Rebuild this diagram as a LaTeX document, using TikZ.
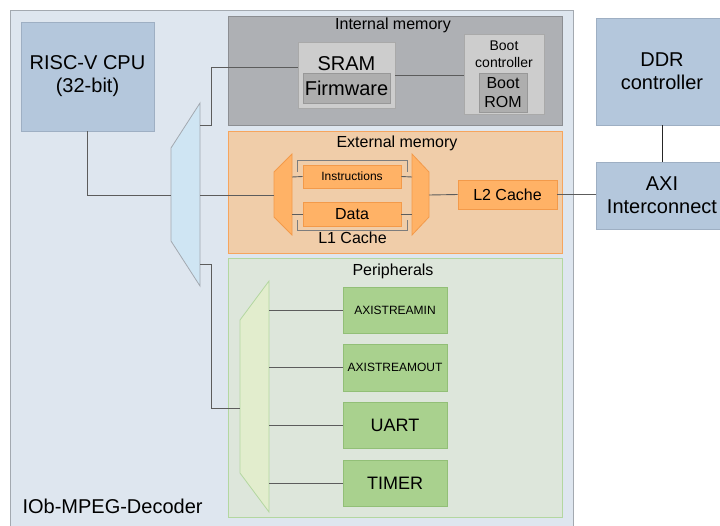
\documentclass[tikz,border=0pt]{standalone}
\usepackage{fontspec}
\setmainfont{Liberation Sans}
\definecolor{socfill}{HTML}{DEE6EF}
\definecolor{socedge}{HTML}{A3A9B0}
\definecolor{bluefill}{HTML}{B4C7DC}
\definecolor{blueedge}{HTML}{9EAFC3}
\definecolor{muxblue}{HTML}{CFE5F3}
\definecolor{intfill}{HTML}{AEB0B4}
\definecolor{intedge}{HTML}{8C8E92}
\definecolor{sramfill}{HTML}{CDCDCD}
\definecolor{sramedge}{HTML}{A9A9A9}
\definecolor{fwfill}{HTML}{AEAEAE}
\definecolor{fwedge}{HTML}{989898}
\definecolor{extfill}{HTML}{F0CDA9}
\definecolor{extedge}{HTML}{F6A55E}
\definecolor{cachefill}{HTML}{FFB266}
\definecolor{cacheedge}{HTML}{F39A4A}
\definecolor{perfill}{HTML}{DDE6DB}
\definecolor{peredge}{HTML}{B3D7A0}
\definecolor{periphfill}{HTML}{A9D18E}
\definecolor{periphedge}{HTML}{92BF77}
\definecolor{muxgreen}{HTML}{E2EDCD}
\definecolor{wire}{HTML}{5C5C5C}
\tikzset{
  box/.style={draw, rectangle, inner sep=0pt, align=center, line width=0.8pt},
  region/.style={draw, line width=0.8pt},
  wirestyle/.style={draw=wire, line width=0.9pt},
  big/.style={font=\fontsize{20}{23}\selectfont},
  mid/.style={font=\fontsize{18}{21}\selectfont},
  norm/.style={font=\fontsize{16}{18.5}\selectfont},
  small/.style={font=\fontsize{14}{17}\selectfont},
  tiny/.style={font=\fontsize{12}{14}\selectfont},
}
\begin{document}
\begin{tikzpicture}[x=1pt, y=-1pt]
\useasboundingbox (0,0) rectangle (720,525);

% SoC enclosure
\path[region, draw=socedge, fill=socfill] (10,10) rectangle (573,540);
\node[big, anchor=base west] (soclabel) at (19,513) {IOb-MPEG-Decoder};

% CPU and off-chip blocks
\node[box, big, draw=blueedge, fill=bluefill, minimum width=133pt, minimum height=109pt] (cpu) at (87.5,76.5) {RISC-V CPU\\(32-bit)};
\node[box, big, draw=blueedge, fill=bluefill, minimum width=132pt, minimum height=107pt] (ddr) at (662,71.5) {DDR\\controller};
\node[box, big, draw=blueedge, fill=bluefill, minimum width=132pt, minimum height=67pt] (axi) at (662,195.5) {AXI\\Interconnect};

% Internal memory
\path[region, draw=intedge, fill=intfill] (228,16) rectangle (562,125);
\node[norm, anchor=base] (inttitle) at (393,29) {Internal memory};
\node[box, draw=sramedge, fill=sramfill, minimum width=97pt, minimum height=66pt] (sram) at (346.5,75) {};
\node[big, anchor=base] (sramlabel) at (346.5,70) {SRAM};
\node[box, big, draw=fwedge, fill=fwfill, minimum width=87pt, minimum height=30pt] (fw) at (346.5,88) {Firmware};
\node[box, draw=sramedge, fill=sramfill, minimum width=80pt, minimum height=80pt] (bootctr) at (504,74) {};
\node[small, anchor=base] (bootlabel) at (504,50) {Boot};
\node[small, anchor=base] (ctrlabel) at (504,67) {controller};
\node[box, norm, draw=fwedge, fill=fwfill, minimum width=48pt, minimum height=39pt] (bootrom) at (503,92.5) {Boot\\ROM};

% External memory
\path[region, draw=extedge, fill=extfill] (228,131) rectangle (562,253);
\node[norm, anchor=base] (exttitle) at (397,147) {External memory};
\draw[region, draw=cacheedge, fill=cachefill] (274,172) -- (292,154) -- (292,235) -- (274,217) -- cycle;
\draw[region, draw=cacheedge, fill=cachefill] (412,154) -- (429,172) -- (429,217) -- (412,235) -- cycle;
\coordinate (l1in) at (274,195);
\coordinate (l1li) at (292,177);
\coordinate (l1ld) at (292,214);
\coordinate (l1ri) at (412,177);
\coordinate (l1rd) at (412,214);
\coordinate (l1out) at (429,195);
\node[box, tiny, draw=cacheedge, fill=cachefill, minimum width=98pt, minimum height=23pt] (instr) at (352,176.5) {Instructions};
\node[box, norm, draw=cacheedge, fill=cachefill, minimum width=98pt, minimum height=24pt] (data) at (352,214) {Data};
\draw[wirestyle, draw=wire!80] (297,172) -- (297,160) -- (407,160) -- (407,172);
\draw[wirestyle, draw=wire!80] (297,220) -- (297,230) -- (407,230) -- (407,220);
\node[norm, anchor=base] (l1label) at (352.5,243) {L1 Cache};
\node[box, norm, draw=cacheedge, fill=cachefill, minimum width=99pt, minimum height=29pt] (l2) at (507.5,194.5) {L2 Cache};

% Peripherals
\path[region, draw=peredge, fill=perfill] (228,258) rectangle (562,517);
\node[norm, anchor=base] (pertitle) at (393,275) {Peripherals};
\draw[region, draw=peredge, fill=muxgreen] (240,320) -- (269,281) -- (269,512) -- (240,473) -- cycle;
\coordinate (pmin) at (240,408);
\foreach \n/\y in {p1/310, p2/367.5, p3/425, p4/483} {
  \coordinate (\n) at (269,\y);
}
\node[box, tiny, draw=periphedge, fill=periphfill, minimum width=104pt, minimum height=46pt] (axin) at (395,310) {AXISTREAMIN};
\node[box, tiny, draw=periphedge, fill=periphfill, minimum width=104pt, minimum height=47pt] (axout) at (395,367.5) {AXISTREAMOUT};
\node[box, mid, draw=periphedge, fill=periphfill, minimum width=104pt, minimum height=46pt] (uart) at (395,425) {UART};
\node[box, mid, draw=periphedge, fill=periphfill, minimum width=104pt, minimum height=46pt] (timer) at (395,483) {TIMER};

% CPU bus splitter
\draw[region, draw=socedge, fill=muxblue] (171,148) -- (200,103) -- (200,286) -- (171,241) -- cycle;
\coordinate (bmin) at (171,195);
\coordinate (bmtop) at (200,125);
\coordinate (bmmid) at (200,195);
\coordinate (bmbot) at (200,264);

% Wires
\draw[wirestyle] (cpu.south) |- (bmin);
\draw[wirestyle] (bmtop) -- (211,125) |- (sram.west |- 0,67);
\draw[wirestyle] (bmmid) -- (l1in);
\draw[wirestyle] (bmbot) -- (211,264) |- (pmin);
\draw[wirestyle] (sram.east) -- (bootctr.west |- sram.east);
\draw[wirestyle] (l1li) -- (instr.west);
\draw[wirestyle] (l1ld) -- (data.west);
\draw[wirestyle] (instr.east) -- (l1ri);
\draw[wirestyle] (data.east) -- (l1rd);
\draw[wirestyle] (l1out) -- (l2.west);
\draw[wirestyle] (l2.east) -- (axi.west |- l2.east);
\draw[wirestyle, draw=black!85] (ddr.south) -- (axi.north);
\draw[wirestyle] (p1) -- (axin.west);
\draw[wirestyle] (p2) -- (axout.west);
\draw[wirestyle] (p3) -- (uart.west);
\draw[wirestyle] (p4) -- (timer.west);
\end{tikzpicture}
\end{document}
